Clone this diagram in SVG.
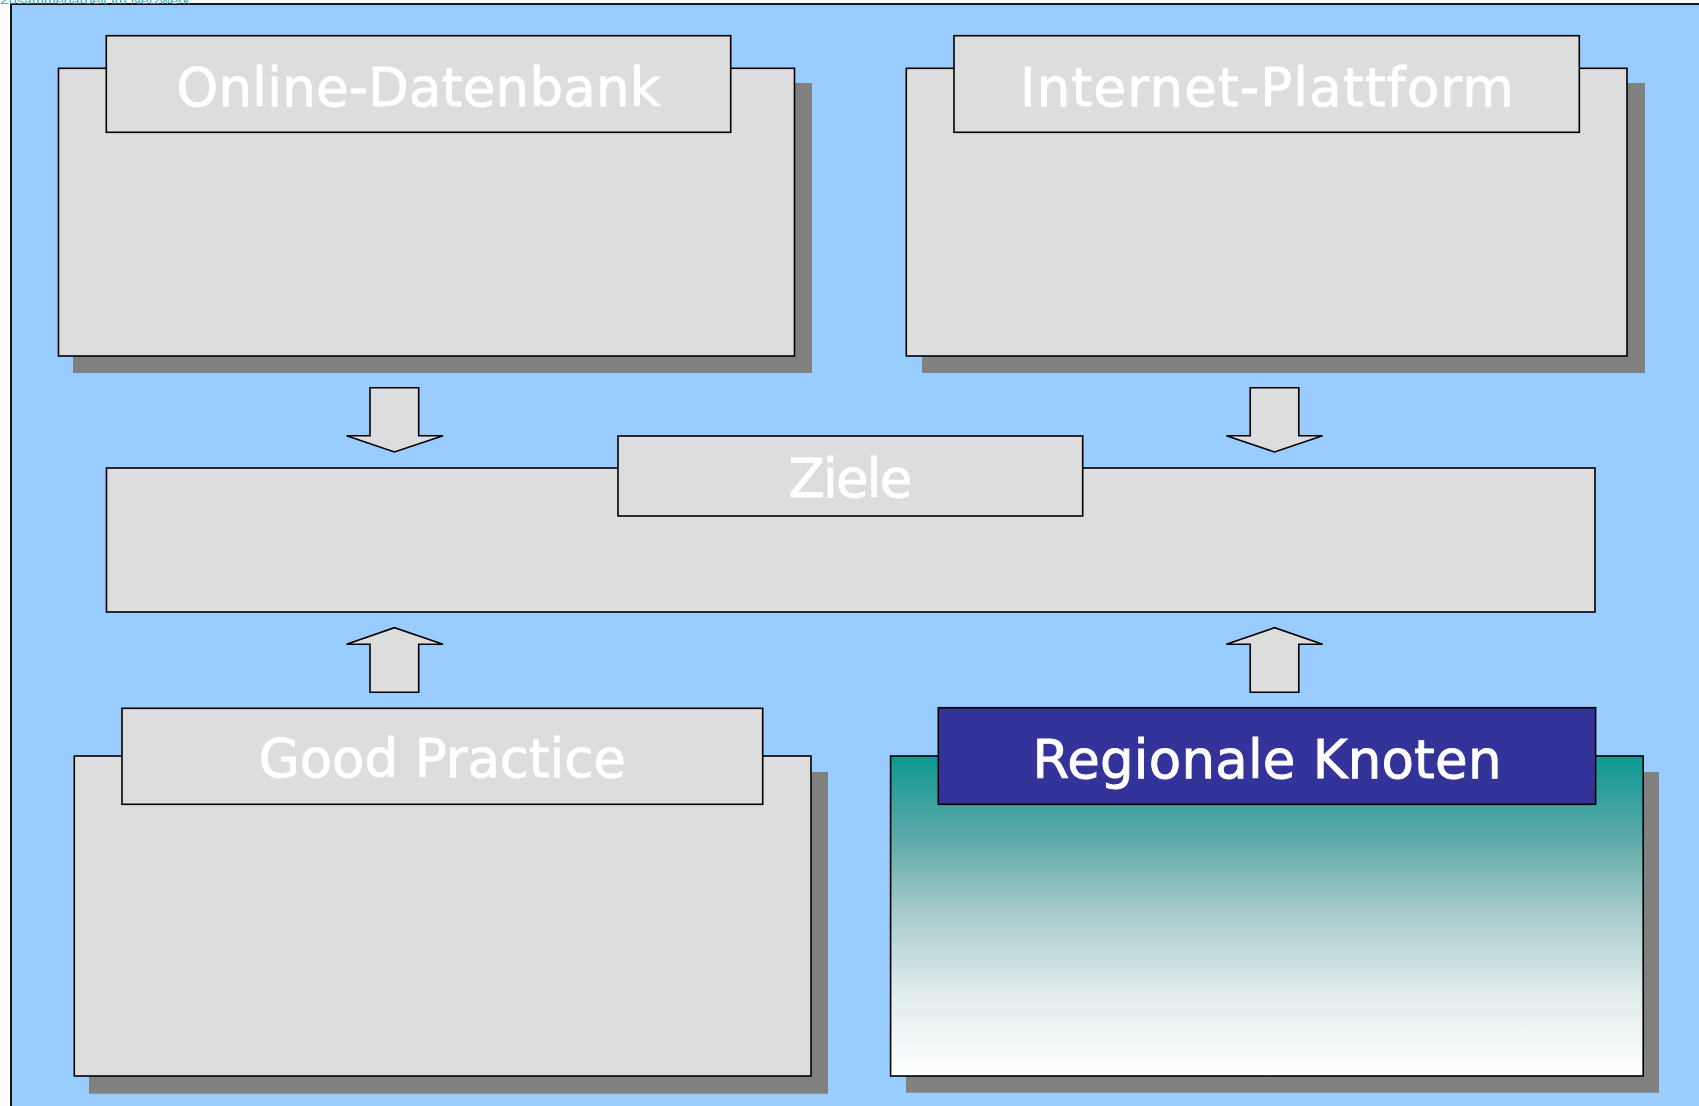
<svg xmlns="http://www.w3.org/2000/svg" width="1699" height="1106" viewBox="0 0 1699 1106">
  <defs>
    <linearGradient id="tealGrad" x1="0" y1="0" x2="0" y2="1">
      <stop offset="0" stop-color="#0e9893"/>
      <stop offset="0.25" stop-color="#5aa9a8"/>
      <stop offset="0.5" stop-color="#aacdcd"/>
      <stop offset="0.75" stop-color="#e2eded"/>
      <stop offset="1" stop-color="#ffffff"/>
    </linearGradient>
    <style>
      .box { fill: #dddddd; stroke: #000000; stroke-width: 1.6; }
      .shadow { fill: #808080; stroke: none; }
      .title { fill: #dddddd; stroke: #000000; stroke-width: 1.6; }
      .titleDark { fill: #333399; stroke: #000000; stroke-width: 1.6; }
      .label { font-family: "DejaVu Sans", Verdana, sans-serif; font-size: 53px; fill: #ffffff; stroke: #ffffff; stroke-width: 0.9; text-anchor: middle; }
      .arrow { fill: #dddddd; stroke: #000000; stroke-width: 1.6; stroke-linejoin: miter; }
    </style>
  </defs>

  <!-- page -->
  <rect x="0" y="0" width="1699" height="1106" fill="#ffffff"/>
  <rect x="11" y="4" width="1700" height="1110" fill="#99ccff" stroke="#000000" stroke-width="1.8"/>
  <text x="0" y="4" font-family="Liberation Sans, Arial, sans-serif" font-size="9" fill="#22aadd" textLength="190" lengthAdjust="spacingAndGlyphs">Zusammenarbeit im Netzwerk</text>

  <g id="online-datenbank">
    <rect class="shadow" x="73" y="83" width="739" height="290"/>
    <rect class="box" x="58.5" y="68.3" width="736" height="287.7"/>
    <rect class="title" x="106.3" y="35.7" width="624.4" height="96.6"/>
    <text class="label" x="418.5" y="106" textLength="484">Online-Datenbank</text>
  </g>

  <g id="internet-plattform">
    <rect class="shadow" x="922" y="83" width="723" height="290"/>
    <rect class="box" x="906.3" y="68.3" width="720.7" height="287.7"/>
    <rect class="title" x="954" y="35.7" width="625.3" height="96.6"/>
    <text class="label" x="1267" y="106" textLength="494">Internet-Plattform</text>
  </g>

  <g id="ziele">
    <rect class="box" x="106.5" y="468" width="1488.5" height="144"/>
    <rect class="title" x="618" y="436" width="464.7" height="80"/>
    <text class="label" x="850.4" y="497" textLength="124">Ziele</text>
  </g>

  <g id="good-practice">
    <rect class="shadow" x="89" y="772" width="739" height="321.7"/>
    <rect class="box" x="74.3" y="756" width="736.7" height="320"/>
    <rect class="title" x="122" y="708.3" width="640.7" height="96"/>
    <text class="label" x="442.3" y="777.3" textLength="367">Good Practice</text>
  </g>

  <g id="regionale-knoten">
    <rect class="shadow" x="906" y="772" width="753" height="320.7"/>
    <rect x="890.6" y="756" width="752.6" height="320" fill="url(#tealGrad)" stroke="#000000" stroke-width="1.6"/>
    <rect class="titleDark" x="938.3" y="707.7" width="657.3" height="96.6"/>
    <text class="label" x="1267" y="777.7" textLength="469">Regionale Knoten</text>
  </g>

  <g id="connectors">
    <polygon class="arrow" points="370,387.7 418.7,387.7 418.7,435.7 443,435.7 394.4,452 346.6,435.7 370,435.7"/>
    <polygon class="arrow" points="1250.2,387.7 1298.8,387.7 1298.8,435.7 1322.6,435.7 1274.5,452 1226.4,435.7 1250.2,435.7"/>
    <polygon class="arrow" points="370,692.3 418.7,692.3 418.7,644.3 443,644.3 394.4,627.7 346.6,644.3 370,644.3"/>
    <polygon class="arrow" points="1250.2,692.3 1298.8,692.3 1298.8,644.3 1322.6,644.3 1274.5,627.7 1226.4,644.3 1250.2,644.3"/>
  </g>
</svg>
